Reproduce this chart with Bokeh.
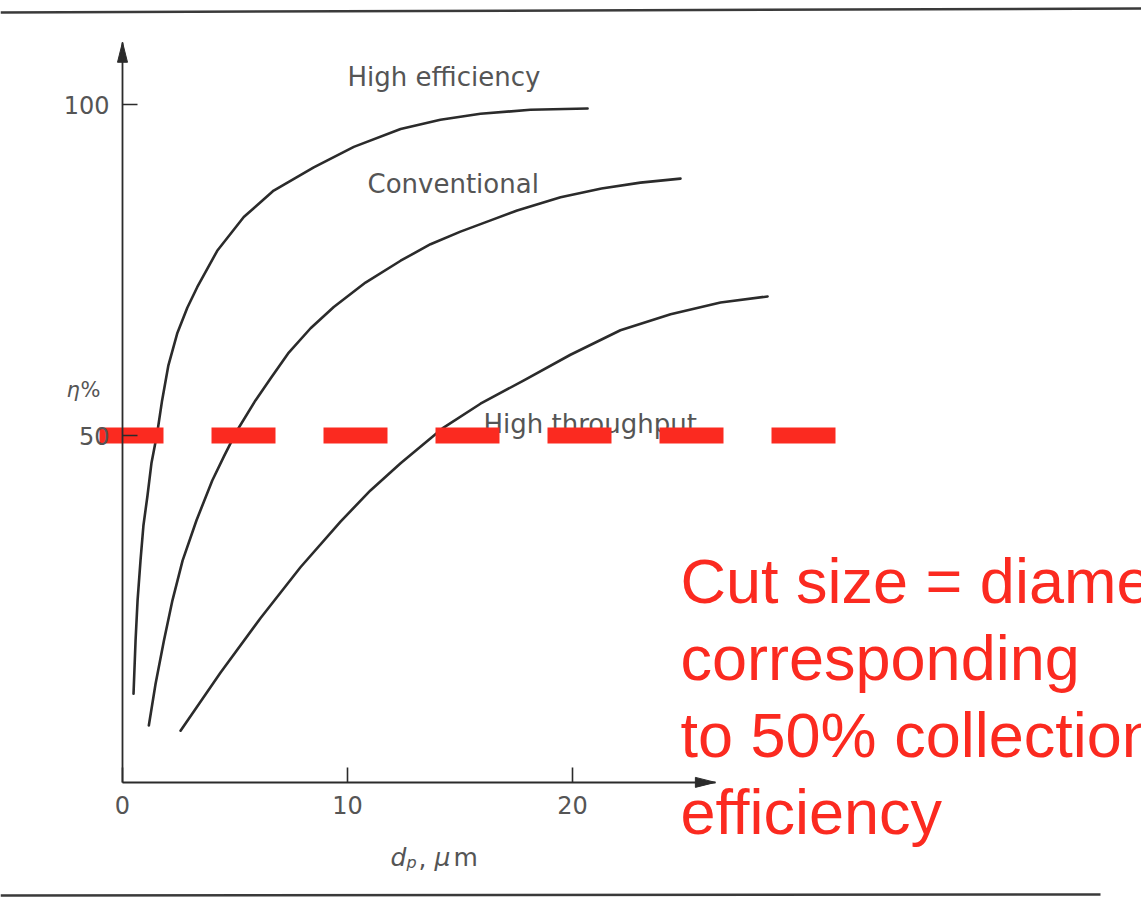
from bokeh.plotting import figure
from bokeh.models import Range1d, LinearAxis, FixedTicker, ColumnDataSource
from bokeh.core.properties import value
from bokeh.embed import file_html
from bokeh.resources import INLINE

# Collection efficiency (%) against particle diameter d_p (um) for three cyclone families
he_x = [0.49, 0.58, 0.67, 0.80, 0.93, 1.11, 1.29, 1.54, 1.76, 2.04, 2.43, 2.88, 3.32, 4.21,
        5.39, 6.72, 8.50, 10.28, 12.36, 14.13, 15.91, 18.13, 20.67]
he_y = [11.0, 19.0, 25.1, 31.1, 36.4, 40.9, 45.9, 50.3, 55.3, 60.6, 65.4, 69.3, 72.4, 77.9,
        83.0, 87.0, 90.5, 93.6, 96.3, 97.7, 98.6, 99.2, 99.4]

conv_x = [1.17, 1.47, 1.84, 2.22, 2.67, 3.29, 3.99, 4.53, 5.10, 5.91, 6.58, 7.36, 8.36, 9.39,
          10.80, 12.36, 13.69, 15.02, 16.36, 17.54, 19.47, 21.29, 23.02, 24.80]
conv_y = [6.2, 12.5, 19.0, 25.1, 31.1, 37.2, 43.2, 47.0, 50.8, 55.3, 58.6, 62.4, 66.2, 69.4,
          73.1, 76.4, 78.9, 80.8, 82.5, 84.0, 86.0, 87.3, 88.2, 88.8]

ht_x = [2.58, 4.36, 6.13, 7.91, 9.69, 11.02, 12.36, 14.27, 15.91, 17.82, 19.91, 22.13,
        24.36, 26.58, 28.67]
ht_y = [5.4, 14.2, 22.4, 30.1, 37.0, 41.7, 45.8, 51.2, 54.8, 58.3, 62.2, 65.9,
        68.3, 70.1, 71.0]

curve_names = ["High efficiency", "Conventional", "High throughput"]
x_ticks = [0, 10, 20]
y_ticks = [50, 100]
cut_level = 50
note_lines = ["Cut size = diameter", "corresponding", "to 50% collection", "efficiency"]

W, H = 1141, 898
# pixel scale of the drawing
XS = 22.5   # px per um
YS = 6.62   # px per %
X0, X1 = -122 / XS, (W - 122) / XS
Y1 = 100 + 104 / YS
Y0 = Y1 - H / YS


def dx(px):
    return X0 + px / XS


def dy(py):
    return Y1 - py / YS


INK = "#2b2b2b"
GREY = "#555555"
RED = "#fb2a20"
SANS = value("DejaVu Sans")

p = figure(width=W, height=H, x_range=Range1d(X0, X1), y_range=Range1d(Y0, Y1),
           x_axis_type=None, y_axis_type=None, toolbar_location=None,
           output_backend="svg", min_border=0)
p.outline_line_color = None
p.background_fill_color = "white"
p.border_fill_color = "white"

x_end = 26.35
y_bottom = -2.4
y_end = 109.4

xaxis = LinearAxis(fixed_location=y_bottom, bounds=(0, x_end), ticker=FixedTicker(ticks=x_ticks))
yaxis = LinearAxis(fixed_location=0, bounds=(y_bottom, y_end), ticker=FixedTicker(ticks=y_ticks))
for ax in (xaxis, yaxis):
    ax.axis_line_color = INK
    ax.axis_line_width = 1.8
    ax.major_tick_line_color = INK
    ax.major_tick_line_width = 1.6
    ax.major_tick_in = 15
    ax.major_tick_out = 0
    ax.minor_tick_line_color = None
    ax.major_label_text_font = "DejaVu Sans"
    ax.major_label_text_font_size = "24px"
    ax.major_label_text_color = GREY
xaxis.major_label_standoff = 14
yaxis.major_label_standoff = 13
p.add_layout(xaxis, "below")
p.add_layout(yaxis, "left")

# arrow heads at the axis ends
ah_len, ah_half = 20, 5
p.patch([0, -ah_half / XS, ah_half / XS], [y_end, y_end - ah_len / YS, y_end - ah_len / YS],
        color=INK, line_width=1)
p.patch([x_end, x_end - ah_len / XS, x_end - ah_len / XS],
        [y_bottom, y_bottom + ah_half / YS, y_bottom - ah_half / YS], color=INK, line_width=1)

# curves
for xs, ys in ((he_x, he_y), (conv_x, conv_y), (ht_x, ht_y)):
    p.line(xs, ys, line_color=INK, line_width=2.6, line_join="round", line_cap="round")

# curve labels
lab = ColumnDataSource(dict(x=[dx(347), dx(367), dx(483)], y=[dy(76), dy(183), dy(423)], t=curve_names))
p.text(x="x", y="y", text="t", source=lab, text_font=SANS,
       text_font_size="26px", text_color=GREY, text_baseline="alphabetic")

# axis titles
p.text(x=[dx(66)], y=[dy(389)], text=["η"], text_font=SANS, text_font_style="italic",
       text_font_size="21px", text_color=GREY, text_baseline="alphabetic")
p.text(x=[dx(80)], y=[dy(389)], text=["%"], text_font=SANS,
       text_font_size="21px", text_color=GREY, text_baseline="alphabetic")
p.text(x=[dx(390)], y=[dy(857)], text=["d"], text_font=SANS, text_font_style="italic",
       text_font_size="25px", text_color=GREY, text_baseline="alphabetic")
p.text(x=[dx(406)], y=[dy(862)], text=["p"], text_font=SANS, text_font_style="italic",
       text_font_size="16px", text_color=GREY, text_baseline="alphabetic")
p.text(x=[dx(418)], y=[dy(857)], text=[","], text_font=SANS,
       text_font_size="25px", text_color=GREY, text_baseline="alphabetic")
p.text(x=[dx(434)], y=[dy(857)], text=["μ"], text_font=SANS, text_font_style="italic",
       text_font_size="25px", text_color=GREY, text_baseline="alphabetic")
p.text(x=[dx(453)], y=[dy(857)], text=["m"], text_font=SANS,
       text_font_size="25px", text_color=GREY, text_baseline="alphabetic")

# page rules
p.line([dx(0), dx(W)], [dy(12), dy(8)], line_color="#3a3a3a", line_width=2.5)
p.line([dx(0), dx(1100)], [dy(895), dy(894)], line_color="#3a3a3a", line_width=2.5)

# 50 % cut line
p.line([dx(99), dx(835)], [cut_level, cut_level], line_color=RED, line_width=16,
       line_dash="64 48", line_cap="butt")

# note
for i, t in enumerate(note_lines):
    p.text(x=[dx(680)], y=[dy(580 + 77 * i)], text=[t], text_font=value("Liberation Sans"),
           text_font_size="63px", text_color=RED, text_baseline="alphabetic")

open("out.html", "w").write(file_html(p, INLINE))
